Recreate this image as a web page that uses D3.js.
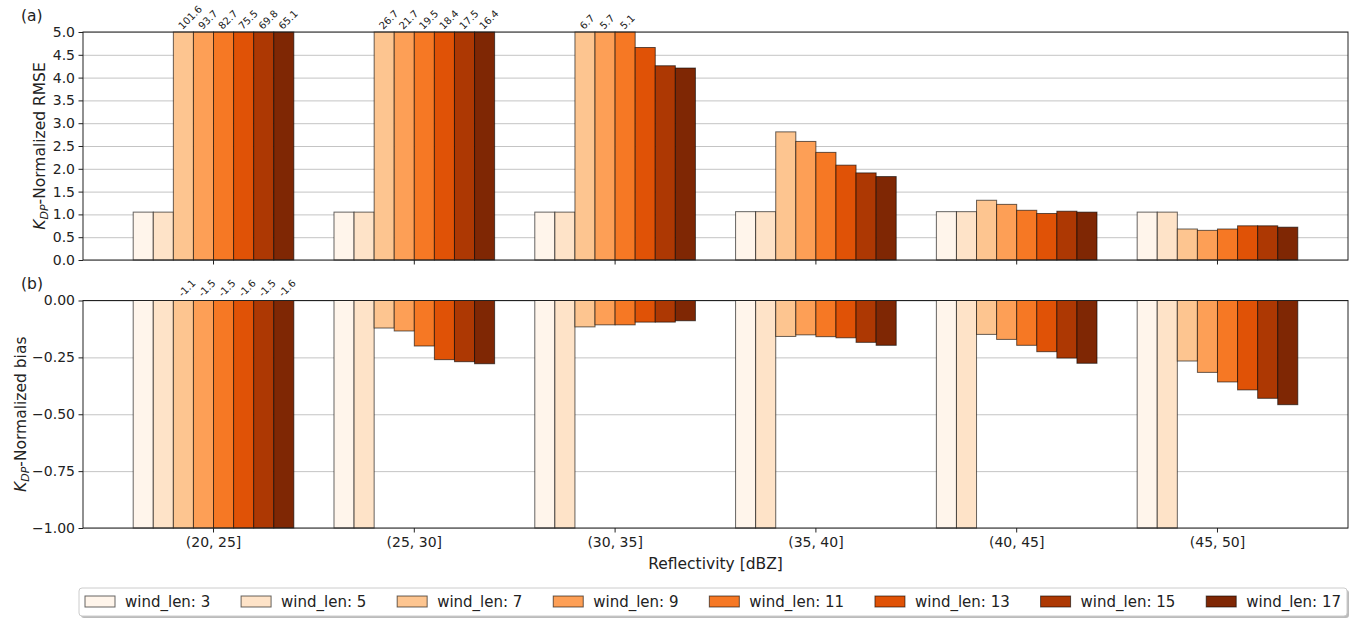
<!DOCTYPE html>
<html><head><meta charset="utf-8">
<script src="https://cdn.jsdelivr.net/npm/d3@7"></script>
<style>
body{margin:0;background:#fff;}
svg{display:block;font-family:"DejaVu Sans",sans-serif;}
</style></head>
<body><svg id="chart" width="1357" height="618"></svg>
<script>
const categories = ["(20, 25]", "(25, 30]", "(30, 35]", "(35, 40]", "(40, 45]", "(45, 50]"];
const windLens = [3, 5, 7, 9, 11, 13, 15, 17];
const rmseTicks = [0, 0.5, 1, 1.5, 2, 2.5, 3, 3.5, 4, 4.5, 5];
const biasTicks = [-1, -0.75, -0.5, -0.25, 0];

// K_DP-normalized RMSE, one array per wind_len, across categories
const rmse_w3  = [1.05, 1.05, 1.05, 1.06, 1.06, 1.05];
const rmse_w5  = [1.05, 1.05, 1.05, 1.06, 1.06, 1.05];
const rmse_w7  = [101.6, 26.7, 6.7, 2.81, 1.31, 0.68];
const rmse_w9  = [93.7, 21.7, 5.7, 2.60, 1.22, 0.65];
const rmse_w11 = [82.7, 19.5, 5.1, 2.36, 1.09, 0.68];
const rmse_w13 = [75.5, 18.4, 4.66, 2.08, 1.02, 0.75];
const rmse_w15 = [69.8, 17.5, 4.26, 1.91, 1.07, 0.75];
const rmse_w17 = [65.1, 16.4, 4.21, 1.83, 1.05, 0.72];

// K_DP-normalized bias
const bias_w3  = [-1.0, -1.0, -1.0, -1.0, -1.0, -1.0];
const bias_w5  = [-1.0, -1.0, -1.0, -1.0, -1.0, -1.0];
const bias_w7  = [-1.1, -0.121, -0.116, -0.158, -0.149, -0.266];
const bias_w9  = [-1.5, -0.134, -0.107, -0.151, -0.171, -0.316];
const bias_w11 = [-1.5, -0.200, -0.107, -0.159, -0.197, -0.358];
const bias_w13 = [-1.6, -0.260, -0.095, -0.164, -0.225, -0.393];
const bias_w15 = [-1.5, -0.269, -0.095, -0.184, -0.253, -0.430];
const bias_w17 = [-1.6, -0.278, -0.089, -0.197, -0.276, -0.458];

const rmseSeries = [rmse_w3, rmse_w5, rmse_w7, rmse_w9, rmse_w11, rmse_w13, rmse_w15, rmse_w17];
const biasSeries = [bias_w3, bias_w5, bias_w7, bias_w9, bias_w11, bias_w13, bias_w15, bias_w17];

const colors = ["#fff5eb", "#fee3c8", "#fdc590", "#fd9f56", "#f67824", "#e05206", "#ad3803", "#7f2704"];

const svg = d3.select("#chart");
const L = 83, R = 1348;
const top1 = 32, bot1 = 260, top2 = 300.5, bot2 = 528;

const x = d3.scaleBand().domain(categories).range([L, R]).paddingInner(0).paddingOuter(0.15);
const step = x.step();
const xs = d3.scaleBand().domain(windLens).range([0.1 * step, 0.9 * step]);
const y1 = d3.scaleLinear().domain([0, 5]).range([bot1, top1]);
const y2 = d3.scaleLinear().domain([-1, 0]).range([bot2, top2]);

function panel(yScale, series, ticks, fmt, top, bot, isBias, showXLabels) {
  const g = svg.append("g");
  g.append("g").attr("transform", `translate(${L},0)`)
    .call(d3.axisLeft(yScale).tickValues(ticks).tickSize(-(R - L)).tickFormat(""))
    .call(s => s.select(".domain").remove())
    .selectAll("line").attr("stroke", "#b0b0b0").attr("stroke-opacity", 0.75).attr("stroke-width", 1);
  windLens.forEach((w, wi) => {
    categories.forEach((c, ci) => {
      const v = series[wi][ci];
      const bx = x(c) + xs(w);
      const bw = xs.bandwidth();
      let ya, yb;
      if (!isBias) { const vv = Math.min(v, 5); ya = yScale(vv); yb = yScale(0); }
      else { const vv = Math.max(v, -1); ya = yScale(0); yb = yScale(vv); }
      g.append("rect").attr("x", bx).attr("y", ya).attr("width", bw).attr("height", yb - ya)
        .attr("fill", colors[wi]).attr("stroke", "#000").attr("stroke-opacity", 0.6).attr("stroke-width", 1);
      const clipped = !isBias ? v > 5 : v < -1;
      if (clipped) {
        const cx = bx + bw / 2;
        const ty = isBias ? top - 3 : top - 2;
        g.append("text").attr("transform", `translate(${cx - 1},${ty}) rotate(-45)`)
          .attr("font-size", 10).attr("fill", "#222").attr("text-anchor", "start")
          .text(d3.format(".1f")(v).replace("−", "-"));
      }
    });
  });
  const ya = g.append("g").attr("transform", `translate(${L},0)`)
    .call(d3.axisLeft(yScale).tickValues(ticks).tickFormat(fmt).tickSize(4.5).tickPadding(3.5));
  ya.select(".domain").remove();
  ya.selectAll("text").attr("font-size", 14).attr("font-family", "DejaVu Sans").attr("fill", "#222");
  ya.selectAll("line").attr("stroke", "#222");
  const xa = g.append("g").attr("transform", `translate(0,${bot})`)
    .call(d3.axisBottom(x).tickSize(4.5).tickPadding(5).tickFormat(showXLabels ? (d => d) : ""));
  xa.select(".domain").remove();
  xa.selectAll("text").attr("font-size", 14).attr("font-family", "DejaVu Sans").attr("fill", "#222");
  xa.selectAll("line").attr("stroke", "#222");
  g.append("rect").attr("x", L).attr("y", top).attr("width", R - L).attr("height", bot - top)
    .attr("fill", "none").attr("stroke", "#222").attr("stroke-width", 1);
}

panel(y1, rmseSeries, rmseTicks, d3.format(".1f"), top1, bot1, false, false);
panel(y2, biasSeries, biasTicks, d3.format(".2f"), top2, bot2, true, true);

function ylabel(lx, cy, rest) {
  const t = svg.append("text").attr("transform", `translate(${lx},${cy}) rotate(-90)`)
    .attr("text-anchor", "middle").attr("font-size", 15.5).attr("fill", "#222");
  t.append("tspan").attr("font-style", "italic").text("K");
  t.append("tspan").attr("font-style", "italic").attr("font-size", 11).attr("dy", 3).text("DP");
  t.append("tspan").attr("dy", -3).text(rest);
}
ylabel(45, (top1 + bot1) / 2, "-Normalized RMSE");
ylabel(26, (top2 + bot2) / 2, "-Normalized bias");

svg.append("text").attr("x", (L + R) / 2).attr("y", 569).attr("text-anchor", "middle")
  .attr("font-size", 15.5).attr("fill", "#222").text("Reflectivity [dBZ]");

svg.append("text").attr("x", 21).attr("y", 21).attr("font-size", 15.5).attr("fill", "#222").text("(a)");
svg.append("text").attr("x", 21).attr("y", 289).attr("font-size", 15.5).attr("fill", "#222").text("(b)");

// legend
const lg = svg.append("g");
const lx0 = 79, lx1 = 1347, ly0 = 588, ly1 = 616;
lg.append("rect").attr("x", lx0 + 2).attr("y", ly0 + 2).attr("width", lx1 - lx0).attr("height", ly1 - ly0)
  .attr("rx", 3).attr("fill", "#777").attr("fill-opacity", 0.5);
lg.append("rect").attr("x", lx0).attr("y", ly0).attr("width", lx1 - lx0).attr("height", ly1 - ly0)
  .attr("rx", 3).attr("fill", "#fff").attr("stroke", "#ccc").attr("stroke-width", 1);
const legendFont = 15;
const texts = windLens.map(w => "wind_len: " + w);
const widths = texts.map(t => {
  const el = lg.append("text").attr("font-size", legendFont).text(t);
  const wd = el.node().getComputedTextLength(); el.remove(); return wd;
});
const patchW = 30, gapT = 10;
const total = widths.reduce((a, b) => a + b, 0) + windLens.length * (patchW + gapT);
const colGap = (lx1 - lx0 - 12 - total) / (windLens.length - 1);
let cx = lx0 + 6;
windLens.forEach((w, i) => {
  lg.append("rect").attr("x", cx).attr("y", 596).attr("width", patchW).attr("height", 11)
    .attr("fill", colors[i]).attr("stroke", "#000").attr("stroke-opacity", 0.6).attr("stroke-width", 1);
  lg.append("text").attr("x", cx + patchW + gapT).attr("y", 607).attr("font-size", legendFont).attr("fill", "#222").text(texts[i]);
  cx += patchW + gapT + widths[i] + colGap;
});
</script></body></html>
